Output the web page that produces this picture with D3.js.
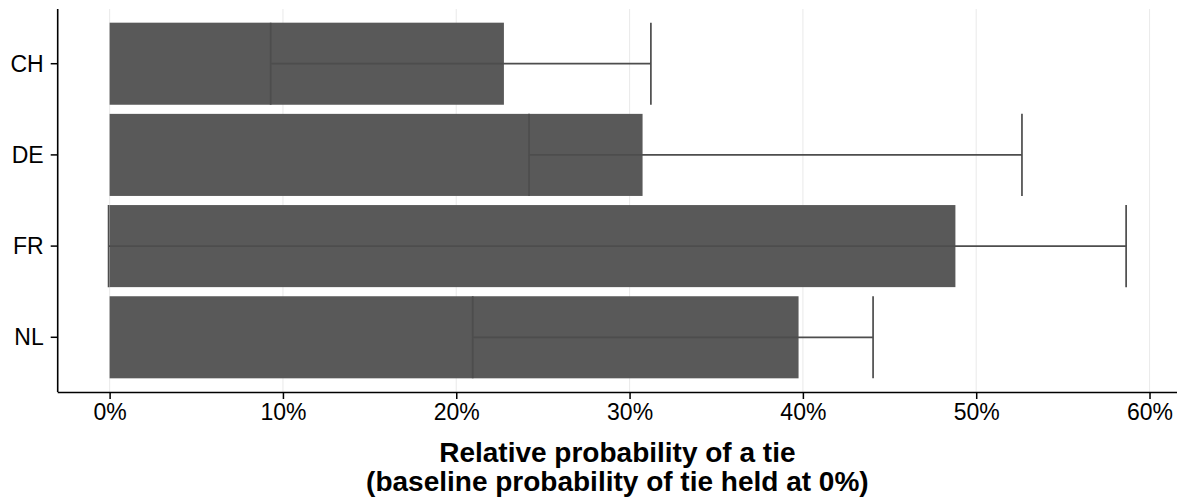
<!DOCTYPE html>
<html>
<head>
<meta charset="utf-8">
<script src="https://cdn.jsdelivr.net/npm/d3@7"></script>
<style>
  html, body { margin: 0; padding: 0; background: #ffffff; }
  svg { display: block; font-family: "Liberation Sans", Arial, Helvetica, sans-serif; }
</style>
</head>
<body>
<svg id="chart" width="1181" height="499"></svg>
<script>
// Countries and estimates (relative probability of a tie, as proportions)
const countries = ["CH", "DE", "FR", "NL"];
const estimate  = [0.2275, 0.3075, 0.4880, 0.3975];
const lower     = [0.0929, 0.2420, -0.0006, 0.2095];
const upper     = [0.3123, 0.5264, 0.5865, 0.4405];
const xTicks    = [0, 0.1, 0.2, 0.3, 0.4, 0.5, 0.6];
const titleLines = ["Relative probability of a tie", "(baseline probability of tie held at 0%)"];

const rows = countries.map((c, i) => ({ country: c, est: estimate[i], lo: lower[i], hi: upper[i] }));

const W = 1181, H = 499;
const panel = { left: 57.7, right: 1177, top: 9, bottom: 392 };

const svg = d3.select("#chart");

// Continuous x axis with 5% expansion around the data range
const dataMin = Math.min(0, d3.min(lower));
const dataMax = Math.max(d3.max(estimate), d3.max(upper));
const pad = (dataMax - dataMin) * 0.05;
const x = d3.scaleLinear()
  .domain([dataMin - pad, dataMax + pad])
  .range([panel.left, panel.right]);

// Discrete y axis: bars take 90% of each step
const y = d3.scaleBand()
  .domain(countries)
  .range([panel.top, panel.bottom])
  .paddingInner(0.1)
  .paddingOuter(0.15);

// Vertical grid lines
svg.append("g")
  .selectAll("line")
  .data(xTicks)
  .join("line")
  .attr("x1", d => x(d)).attr("x2", d => x(d))
  .attr("y1", panel.top).attr("y2", panel.bottom)
  .attr("stroke", "#ebebeb")
  .attr("stroke-width", 1.1);

// Bars
svg.append("g")
  .selectAll("rect")
  .data(rows)
  .join("rect")
  .attr("x", d => x(Math.min(0, d.est)))
  .attr("y", d => y(d.country))
  .attr("width", d => Math.abs(x(d.est) - x(0)))
  .attr("height", y.bandwidth())
  .attr("fill", "#595959");

// Horizontal error bars
const eb = svg.append("g")
  .attr("stroke", "#4d4d4d")
  .attr("stroke-width", 1.7)
  .attr("fill", "none");

eb.selectAll("path")
  .data(rows)
  .join("path")
  .attr("d", d => {
    const y0 = y(d.country), y1 = y0 + y.bandwidth(), ym = y0 + y.bandwidth() / 2;
    const xl = x(d.lo), xh = x(d.hi);
    return `M${xl},${y0}V${y1}M${xl},${ym}H${xh}M${xh},${y0}V${y1}`;
  });

// Axes
const xAxis = d3.axisBottom(x)
  .tickValues(xTicks)
  .tickFormat(d3.format(".0%"))
  .tickSize(7)
  .tickPadding(4);

const gx = svg.append("g")
  .attr("transform", `translate(0,${panel.bottom})`)
  .call(xAxis);
gx.select(".domain").attr("d", `M${panel.left},0.5H${panel.right}`);

const yAxis = d3.axisLeft(y)
  .tickSize(7)
  .tickPadding(7);

const gy = svg.append("g")
  .attr("transform", `translate(${panel.left},0)`)
  .call(yAxis);
gy.select(".domain").attr("d", `M0,${panel.top}V${panel.bottom}`);

[gx, gy].forEach(g => {
  g.select(".domain").attr("stroke", "#000").attr("stroke-width", 1.6);
  g.selectAll(".tick line").attr("stroke", "#000").attr("stroke-width", 1.5);
  g.selectAll(".tick text")
    .attr("fill", "#000")
    .style("font-size", "23px")
    .style("font-family", "'Liberation Sans', Arial, sans-serif");
});
gy.selectAll(".tick text").attr("dy", "0.35em");
gx.selectAll(".tick text").attr("dy", "0.75em");

// Axis title, two centred lines
const cx = (panel.left + panel.right) / 2;
const title = svg.append("text")
  .attr("x", cx)
  .attr("y", 462)
  .attr("text-anchor", "middle")
  .style("font-size", "28px")
  .style("font-weight", "bold")
  .attr("fill", "#000");
title.selectAll("tspan")
  .data(titleLines)
  .join("tspan")
  .attr("x", cx)
  .attr("dy", (d, i) => i === 0 ? 0 : 28.5)
  .text(d => d);
</script>
</body>
</html>
